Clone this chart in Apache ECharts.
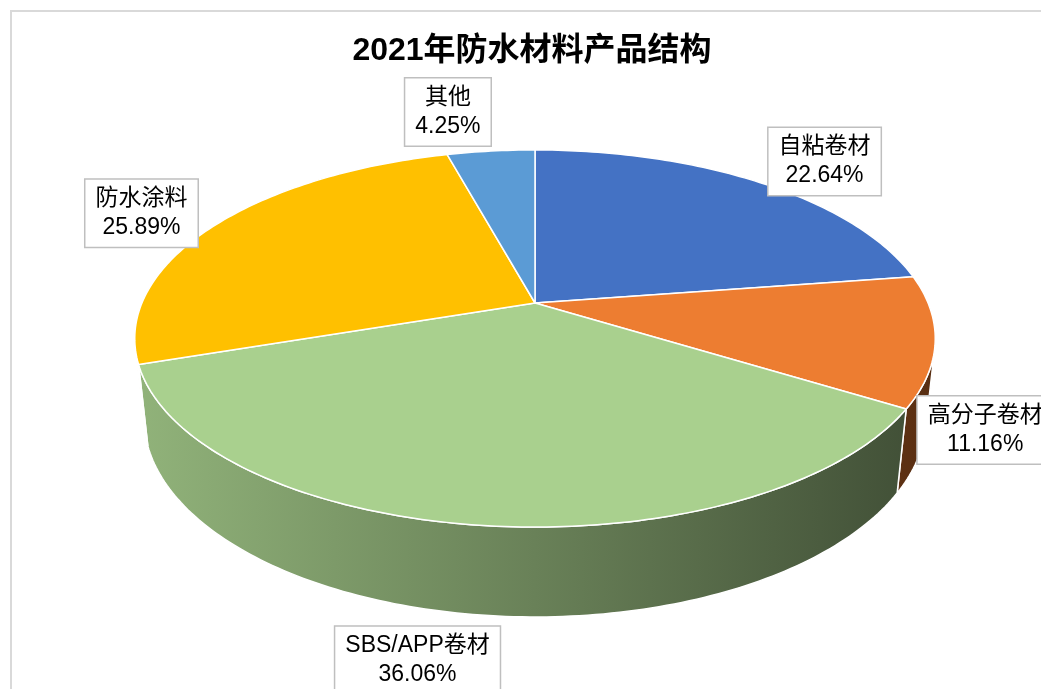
<!DOCTYPE html>
<html>
<head>
<meta charset="utf-8">
<title>2021年防水材料产品结构</title>
<script src="https://cdn.jsdelivr.net/npm/echarts@6/dist/echarts.min.js"></script>
<style>
  html, body { margin: 0; padding: 0; background: #fff; }
  #chart { width: 1041px; height: 689px; }
</style>
</head>
<body>
<div id="chart"></div>
<script>
const categories = ['自粘卷材', '高分子卷材', 'SBS/APP卷材', '防水涂料', '其他'];
const shares = [22.64, 11.16, 36.06, 25.89, 4.25];
const sliceColors = ['#4472C4', '#ED7D31', '#A9D08E', '#FFC000', '#5B9BD5'];
// where each label box sits, relative to the rim point at the slice middle
const labelShift = [[65, -21], [50, 89], [-62, 135], [-75, -11], [-43, -39]];

// 3d pie seen from above in perspective
const view = { cx: 535, cy: 303, F: 1851, D: 4.709, tilt: 27.56 * Math.PI / 180, thick: 0.2298 };
const sa = Math.sin(view.tilt), ca = Math.cos(view.tilt);
const total = shares.reduce((s, v) => s + v, 0);

// theta = 0 is the far side, going clockwise; y = 0 top face, y < 0 below it
function project(theta, y) {
    const s = Math.sin(theta), c = Math.cos(theta);
    const d = view.D - y * sa + c * ca;
    return [view.cx + view.F * s / d, view.cy - view.F * (y * ca + c * sa) / d];
}

function arc(a, b, y) {
    const n = Math.max(2, Math.ceil(Math.abs(b - a) / (Math.PI / 180)));
    const pts = [];
    for (let k = 0; k <= n; k++) pts.push(project(a + (b - a) * k / n, y));
    return pts;
}

function sliceAngles(i) {
    let before = 0;
    for (let k = 0; k < i; k++) before += shares[k];
    return [before / total * Math.PI * 2, (before + shares[i]) / total * Math.PI * 2];
}

// part of the side wall facing the camera
const wallFrom = Math.acos(-1 / (view.D * ca));
const wallTo = Math.PI * 2 - wallFrom;
const wallLeft = project(wallTo, 0)[0];
const wallRight = project(wallFrom, 0)[0];

function shade(hex, f) {
    const n = parseInt(hex.slice(1), 16);
    const ch = [(n >> 16) & 255, (n >> 8) & 255, n & 255].map(v => Math.round(v * f));
    return 'rgb(' + ch.join(',') + ')';
}

function wallFill(color) {
    return {
        type: 'linear', global: true,
        x: wallLeft, y: 0, x2: wallRight, y2: 0,
        colorStops: [
            { offset: 0, color: shade(color, 0.86) },
            { offset: 0.5, color: shade(color, 0.62) },
            { offset: 1, color: shade(color, 0.37) }
        ]
    };
}

const chart = echarts.init(document.getElementById('chart'));

const option = {
    animation: false,
    backgroundColor: '#fff',
    graphic: [
        {
            type: 'rect',
            shape: { x: 11, y: 11, width: 1200, height: 900 },
            style: { fill: 'none', stroke: '#D9D9D9', lineWidth: 2 },
            silent: true
        },
        {
            type: 'text',
            x: 532, y: 51,
            style: {
                text: '2021年防水材料产品结构',
                align: 'center', verticalAlign: 'middle',
                font: 'bold 32px "Liberation Sans", "Noto Sans CJK SC", sans-serif',
                fill: '#000'
            }
        }
    ],
    series: [
        {
            // side walls
            type: 'custom',
            coordinateSystem: 'none',
            z: 2,
            data: shares.map((v, i) => ({ name: categories[i], value: v })),
            renderItem: (params) => {
                const i = params.dataIndex;
                const [a, b] = sliceAngles(i);
                const lo = Math.max(a, wallFrom), hi = Math.min(b, wallTo);
                if (hi <= lo) return { type: 'group', children: [] };
                const pts = arc(lo, hi, 0).concat(arc(hi, lo, -view.thick));
                return {
                    type: 'polygon',
                    shape: { points: pts },
                    style: { fill: wallFill(sliceColors[i]), stroke: '#fff', lineWidth: 1.5 }
                };
            }
        },
        {
            // top faces and labels
            type: 'custom',
            coordinateSystem: 'none',
            z: 3,
            data: shares.map((v, i) => ({ name: categories[i], value: v })),
            renderItem: (params, api) => {
                const i = params.dataIndex;
                const [a, b] = sliceAngles(i);
                const pts = [[view.cx, view.cy]].concat(arc(a, b, 0));
                const rim = project((a + b) / 2, 0);
                return {
                    type: 'group',
                    children: [
                        {
                            type: 'polygon',
                            shape: { points: pts },
                            style: { fill: sliceColors[i], stroke: '#fff', lineWidth: 1.5, lineJoin: 'round' }
                        },
                        {
                            type: 'text',
                            z2: 100,
                            x: rim[0] + labelShift[i][0],
                            y: rim[1] + labelShift[i][1],
                            style: {
                                text: categories[i] + '\n' + api.value(0).toFixed(2) + '%',
                                align: 'center', verticalAlign: 'middle',
                                font: '23px "Liberation Sans", "Noto Sans CJK SC", sans-serif',
                                lineHeight: 29,
                                fill: '#000',
                                backgroundColor: '#fff',
                                borderColor: '#BFBFBF',
                                borderWidth: 1.5,
                                padding: [5, 10, 4, 10]
                            }
                        }
                    ]
                };
            }
        }
    ]
};

chart.setOption(option);
</script>
</body>
</html>
